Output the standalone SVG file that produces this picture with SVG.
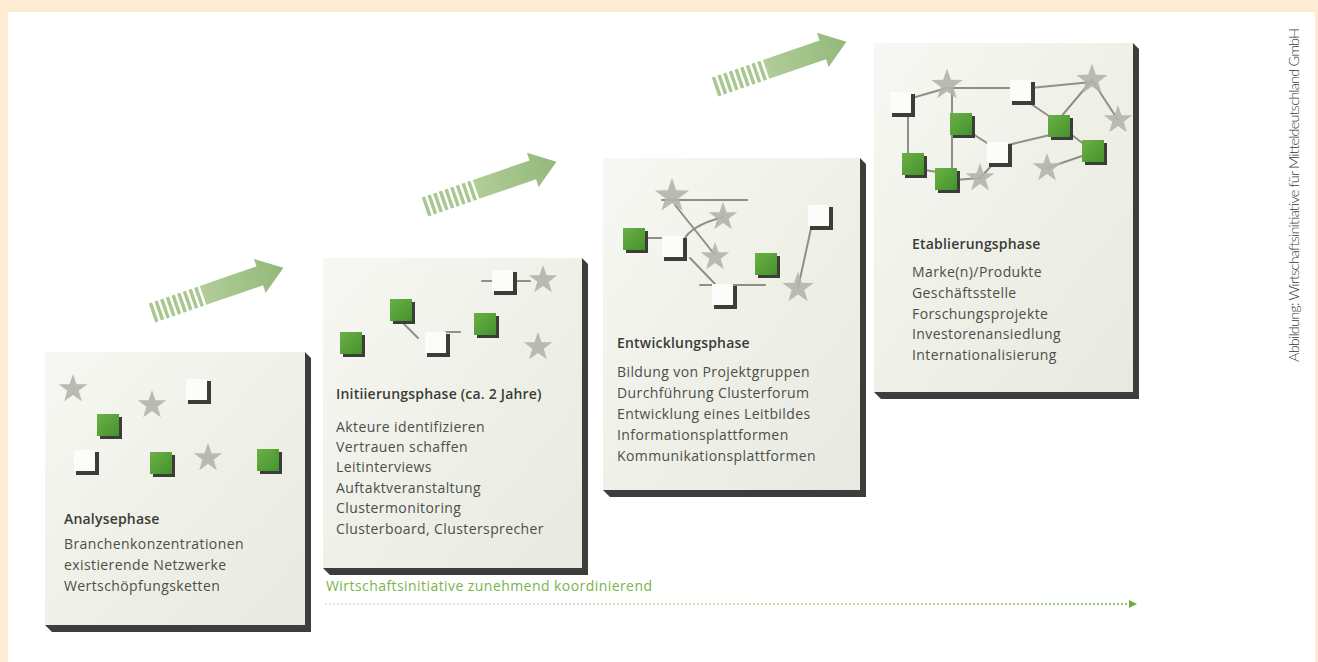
<svg xmlns="http://www.w3.org/2000/svg" width="1318" height="662" viewBox="0 0 1318 662">
<style>
.ttl{font-family:"Open Sans","Liberation Sans",sans-serif;font-size:14px;font-weight:600;letter-spacing:0.2px;fill:#3a3b38}
.txt{font-family:"Open Sans","Liberation Sans",sans-serif;font-size:14px;letter-spacing:0.4px;fill:#4d4e4a}
.ln{stroke:#8e9088;stroke-width:2;fill:none;stroke-linecap:round}
.shadow{fill:#3b3e3b}
.star{fill:#b3b4ac;opacity:0.9}
</style>
<defs>
<linearGradient id="boxg" x1="0" y1="0" x2="1" y2="1">
<stop offset="0" stop-color="#f7f8f3"/>
<stop offset="0.5" stop-color="#eff0e8"/>
<stop offset="1" stop-color="#e8eae1"/>
</linearGradient>
<linearGradient id="gg" x1="0" y1="0" x2="1" y2="1">
<stop offset="0" stop-color="#6bb046"/>
<stop offset="1" stop-color="#44922c"/>
</linearGradient>
<linearGradient id="arg" x1="0" y1="0" x2="1" y2="0">
<stop offset="0" stop-color="#b1cd98"/>
<stop offset="1" stop-color="#93b879"/>
</linearGradient>
<linearGradient id="dotg" gradientUnits="userSpaceOnUse" x1="325" y1="0" x2="1129" y2="0">
<stop offset="0" stop-color="#d6e7c6"/>
<stop offset="0.6" stop-color="#b2d296"/>
<stop offset="1" stop-color="#6fae44"/>
</linearGradient>
<g id="gsq">
<rect x="3" y="3" width="22" height="22" fill="#3b3e38"/>
<rect x="0" y="0" width="22" height="22" fill="url(#gg)"/>
</g>
<g id="wsq">
<path d="M21,2 h4 v23 h-23 v-4 h19 z" fill="#3b3e38"/>
<rect x="0" y="0" width="21" height="21" fill="#fcfcfa"/>
</g>
<polygon id="star" points="0,-15 3.53,-4.85 14.27,-4.64 5.71,1.85 8.82,12.14 0,6 -8.82,12.14 -5.71,1.85 -14.27,-4.64 -3.53,-4.85"/>
<g id="arrow">
<rect x="0" y="-10" width="3.5" height="20" fill="#a9c790"/>
<rect x="6" y="-10" width="3.5" height="20" fill="#a9c790"/>
<rect x="12" y="-10" width="3.5" height="20" fill="#a9c790"/>
<rect x="18" y="-10" width="3.5" height="20" fill="#a9c790"/>
<rect x="24" y="-10" width="3.5" height="20" fill="#a9c790"/>
<rect x="30" y="-10" width="3.5" height="20" fill="#a9c790"/>
<rect x="36" y="-10" width="3.5" height="20" fill="#a9c790"/>
<rect x="42" y="-10" width="3.5" height="20" fill="#a9c790"/>
<rect x="48" y="-10" width="3.5" height="20" fill="#a9c790"/>
<path d="M54,-10 H114 V-18 L139,0 L114,18 V10 H54 Z" fill="url(#arg)"/>
</g>
</defs>

<rect x="0" y="0" width="1318" height="662" fill="#fdebd3"/>
<rect x="8" y="12" width="1307" height="650" fill="#ffffff"/>

<g id="arrows">
<use href="#arrow" transform="translate(152,313) rotate(-19)"/>
<use href="#arrow" transform="translate(425,207) rotate(-19)"/>
<use href="#arrow" transform="translate(715,87) rotate(-19)"/>
</g>

<g id="phase1">
<polygon class="shadow" points="305,352 311,358 311,632 52,632 45,625 305,625"/>
<rect x="45" y="352" width="260" height="273" fill="url(#boxg)"/>
<use href="#star" class="star" transform="translate(73,389)"/>
<use href="#star" class="star" transform="translate(152,405)"/>
<use href="#star" class="star" transform="translate(208,458)"/>
<use href="#gsq" x="97" y="414"/>
<use href="#wsq" x="186" y="379"/>
<use href="#wsq" x="74" y="450"/>
<use href="#gsq" x="150" y="452"/>
<use href="#gsq" x="257" y="449"/>
<text class="ttl" x="64" y="524">Analysephase</text>
<text class="txt" x="64" y="549">Branchenkonzentrationen</text>
<text class="txt" x="64" y="570">existierende Netzwerke</text>
<text class="txt" x="64" y="591">Wertschöpfungsketten</text>
</g>

<g id="phase2">
<polygon class="shadow" points="582,258 588,264 588,575 330,575 323,568 582,568"/>
<rect x="323" y="258" width="259" height="310" fill="url(#boxg)"/>
<line class="ln" x1="482" y1="281" x2="530" y2="281"/>
<line class="ln" x1="400" y1="320" x2="418" y2="338"/>
<line class="ln" x1="446" y1="332" x2="460" y2="332"/>
<use href="#star" class="star" transform="translate(543,280)"/>
<use href="#star" class="star" transform="translate(538,347)"/>
<use href="#wsq" x="492" y="270"/>
<use href="#gsq" x="390" y="299"/>
<use href="#wsq" x="425" y="332"/>
<use href="#gsq" x="474" y="313"/>
<use href="#gsq" x="340" y="332"/>
<text class="ttl" x="336" y="399">Initiierungsphase (ca. 2 Jahre)</text>
<text class="txt" x="336" y="432">Akteure identifizieren</text>
<text class="txt" x="336" y="452">Vertrauen schaffen</text>
<text class="txt" x="336" y="472">Leitinterviews</text>
<text class="txt" x="336" y="493">Auftaktveranstaltung</text>
<text class="txt" x="336" y="513">Clustermonitoring</text>
<text class="txt" x="336" y="534">Clusterboard, Clustersprecher</text>
</g>

<g id="phase3">
<polygon class="shadow" points="860,158 866,164 866,497 610,497 603,490 860,490"/>
<rect x="603" y="158" width="257" height="332" fill="url(#boxg)"/>
<line class="ln" x1="662" y1="200" x2="747" y2="200"/>
<line class="ln" x1="675" y1="205" x2="715" y2="255"/>
<line class="ln" x1="645" y1="238" x2="665" y2="238"/>
<path class="ln" d="M684,240 Q690,226 723,217"/>
<line class="ln" x1="690" y1="258" x2="716" y2="285"/>
<line class="ln" x1="700" y1="285" x2="765" y2="285"/>
<line class="ln" x1="812" y1="224" x2="798" y2="288"/>
<use href="#star" class="star" transform="translate(672,196) scale(1.2)"/>
<use href="#star" class="star" transform="translate(723,217)"/>
<use href="#star" class="star" transform="translate(715,257)"/>
<use href="#star" class="star" transform="translate(798,288) scale(1.1)"/>
<use href="#gsq" x="623" y="228"/>
<use href="#wsq" x="662" y="236"/>
<use href="#wsq" x="712" y="284"/>
<use href="#gsq" x="755" y="253"/>
<use href="#wsq" x="808" y="205"/>
<text class="ttl" x="617" y="348">Entwicklungsphase</text>
<text class="txt" x="617" y="377">Bildung von Projektgruppen</text>
<text class="txt" x="617" y="398">Durchführung Clusterforum</text>
<text class="txt" x="617" y="419">Entwicklung eines Leitbildes</text>
<text class="txt" x="617" y="440">Informationsplattformen</text>
<text class="txt" x="617" y="461">Kommunikationsplattformen</text>
</g>

<g id="phase4">
<polygon class="shadow" points="1133,43 1139,49 1139,399 881,399 874,392 1133,392"/>
<rect x="874" y="43" width="259" height="349" fill="url(#boxg)"/>
<line class="ln" x1="912" y1="98" x2="947" y2="88"/>
<line class="ln" x1="947" y1="88" x2="1012" y2="88"/>
<line class="ln" x1="1030" y1="88" x2="1092" y2="82"/>
<line class="ln" x1="1092" y1="80" x2="1060" y2="118"/>
<line class="ln" x1="1092" y1="80" x2="1118" y2="120"/>
<line class="ln" x1="908" y1="113" x2="908" y2="160"/>
<line class="ln" x1="952" y1="88" x2="952" y2="175"/>
<line class="ln" x1="1025" y1="100" x2="1052" y2="118"/>
<line class="ln" x1="970" y1="132" x2="990" y2="145"/>
<line class="ln" x1="1008" y1="145" x2="1050" y2="135"/>
<line class="ln" x1="925" y1="170" x2="937" y2="172"/>
<line class="ln" x1="955" y1="180" x2="980" y2="178"/>
<line class="ln" x1="980" y1="178" x2="995" y2="162"/>
<line class="ln" x1="1068" y1="132" x2="1085" y2="145"/>
<line class="ln" x1="1085" y1="155" x2="1047" y2="168"/>
<use href="#star" class="star" transform="translate(947,85) scale(1.1)"/>
<use href="#star" class="star" transform="translate(1092,80) scale(1.1)"/>
<use href="#star" class="star" transform="translate(1118,120)"/>
<use href="#star" class="star" transform="translate(980,178)"/>
<use href="#star" class="star" transform="translate(1047,168)"/>
<use href="#wsq" x="890" y="92"/>
<use href="#wsq" x="1010" y="80"/>
<use href="#gsq" x="950" y="113"/>
<use href="#gsq" x="1048" y="115"/>
<use href="#wsq" x="987" y="142"/>
<use href="#gsq" x="902" y="153"/>
<use href="#gsq" x="935" y="168"/>
<use href="#gsq" x="1082" y="140"/>
<text class="ttl" x="912" y="249">Etablierungsphase</text>
<text class="txt" x="912" y="277">Marke(n)/Produkte</text>
<text class="txt" x="912" y="298">Geschäftsstelle</text>
<text class="txt" x="912" y="319">Forschungsprojekte</text>
<text class="txt" x="912" y="339">Investorenansiedlung</text>
<text class="txt" x="912" y="360">Internationalisierung</text>
</g>

<g id="connectors">
<line x1="325" y1="604" x2="1129" y2="604" stroke="url(#dotg)" stroke-width="1.5" stroke-dasharray="2 2"/>
<polygon points="1129,600 1137,604 1129,608" fill="#6fae44"/>
</g>
<text x="326" y="591" font-family="Open Sans, Liberation Sans, sans-serif" font-size="14" fill="#7ab44c" textLength="326">Wirtschaftsinitiative zunehmend koordinierend</text>

<text transform="translate(1299,362) rotate(-90)" font-family="Lato, Open Sans, sans-serif" font-weight="300" font-size="14.5" fill="#3a3a3a" textLength="334">Abbildung: Wirtschaftsinitiative für Mitteldeutschland GmbH</text>
</svg>
